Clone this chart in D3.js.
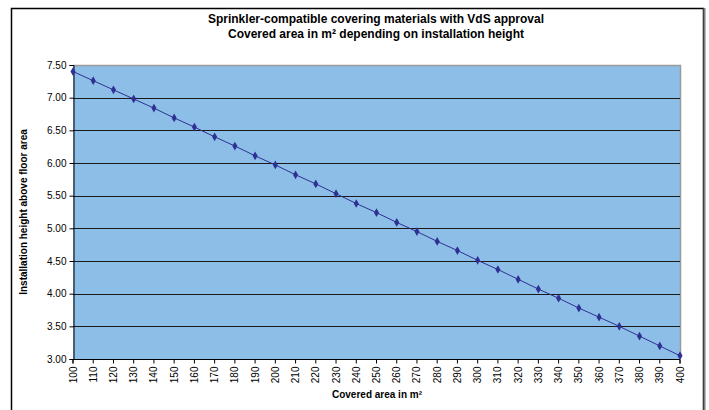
<!DOCTYPE html>
<html><head><meta charset="utf-8">
<script src="https://cdn.jsdelivr.net/npm/d3@7"></script>
<style>body{margin:0;background:#fff}svg{display:block;font-family:Arial,"Liberation Sans",sans-serif}</style>
</head><body>
<script>
const titleLines = ["Sprinkler-compatible covering materials with VdS approval", "Covered area in m² depending on installation height"];
const xLabel = "Covered area in m²";
const yLabel = "Installation height above floor area";
const areas = [100,110,120,130,140,150,160,170,180,190,200,210,220,230,240,250,260,270,280,290,300,310,320,330,340,350,360,370,380,390,400];
const heights = [7.40,7.26,7.12,6.98,6.84,6.69,6.55,6.40,6.26,6.11,5.97,5.82,5.68,5.53,5.38,5.24,5.09,4.95,4.80,4.66,4.51,4.37,4.22,4.07,3.93,3.78,3.64,3.50,3.35,3.20,3.05];
const yTicks = [3.00,3.50,4.00,4.50,5.00,5.50,6.00,6.50,7.00,7.50];

const W = 709, H = 410;
const svg = d3.select("body").append("svg").attr("width", W).attr("height", H);

// outer frame
svg.append("rect").attr("x", 11.5).attr("y", 8.5).attr("width", 692).attr("height", 420)
  .attr("fill", "#fff").attr("stroke", "#000").attr("stroke-width", 1.5);
svg.append("line").attr("x1", 704.5).attr("x2", 704.5).attr("y1", 8).attr("y2", H)
  .attr("stroke", "#808080").attr("stroke-width", 2);

const L = 73, R = 680, T = 65, B = 359;
const x = d3.scalePoint().domain(areas).range([L, R]);
const y = d3.scaleLinear().domain([3, 7.5]).range([B, T]);

svg.append("rect").attr("x", L).attr("y", T).attr("width", R - L).attr("height", B - T)
  .attr("fill", "#8DBEE7");
svg.append("path").attr("d", `M${L},${T+0.5}H${R+0.5}V${B}`).attr("fill", "none")
  .attr("stroke", "#9a9a9a").attr("stroke-width", 1.5);

// gridlines
svg.append("g").selectAll("line").data(yTicks.filter(v => v > 3 && v < 7.5)).join("line")
  .attr("x1", L).attr("x2", R).attr("y1", d => Math.round(y(d)) + 0.5).attr("y2", d => Math.round(y(d)) + 0.5)
  .attr("stroke", "#1a1a1a").attr("stroke-width", 1);

// y axis
const yAxis = d3.axisLeft(y).tickValues(yTicks).tickFormat(d3.format(".2f")).tickSize(4).tickPadding(3);
const gy = svg.append("g").attr("transform", `translate(${L+0.5},0)`).call(yAxis);
gy.select(".domain").attr("stroke", "#000");
gy.selectAll("text").attr("font-size", 10).attr("fill", "#000");

// x axis
const xAxis = d3.axisBottom(x).tickSize(4).tickPadding(3).offset(0);
const gx = svg.append("g").attr("transform", `translate(0,${B+0.5})`).call(xAxis);
gx.select(".domain").attr("stroke", "#000").attr("d", `M${L},4V0H${R}V4`);
gx.selectAll("text").attr("font-size", 10).attr("fill", "#000")
  .attr("transform", "rotate(-90)").attr("text-anchor", "end")
  .attr("x", -7).attr("y", 0).attr("dy", "0.35em");

// line
const line = d3.line().x((d, i) => x(areas[i])).y(d => y(d));
svg.append("path").datum(heights).attr("d", line).attr("fill", "none")
  .attr("stroke", "#2E3192").attr("stroke-width", 1);
svg.append("g").selectAll("path").data(heights).join("path")
  .attr("d", d3.symbol().type(d3.symbolDiamond).size(22))
  .attr("transform", (d, i) => `translate(${x(areas[i])},${y(d)})`)
  .attr("fill", "#2E3192");

// titles
svg.append("g").selectAll("text").data(titleLines).join("text")
  .attr("x", 376).attr("y", (d, i) => 23 + i * 14.5).attr("text-anchor", "middle")
  .attr("font-size", 12).attr("font-weight", "bold").text(d => d);
svg.append("text").attr("x", 377).attr("y", 398).attr("text-anchor", "middle")
  .attr("font-size", 10).attr("font-weight", "bold").text(xLabel);
svg.append("text").attr("transform", `translate(27,212) rotate(-90)`).attr("text-anchor", "middle")
  .attr("font-size", 10).attr("font-weight", "bold").text(yLabel);
</script>
</body></html>
